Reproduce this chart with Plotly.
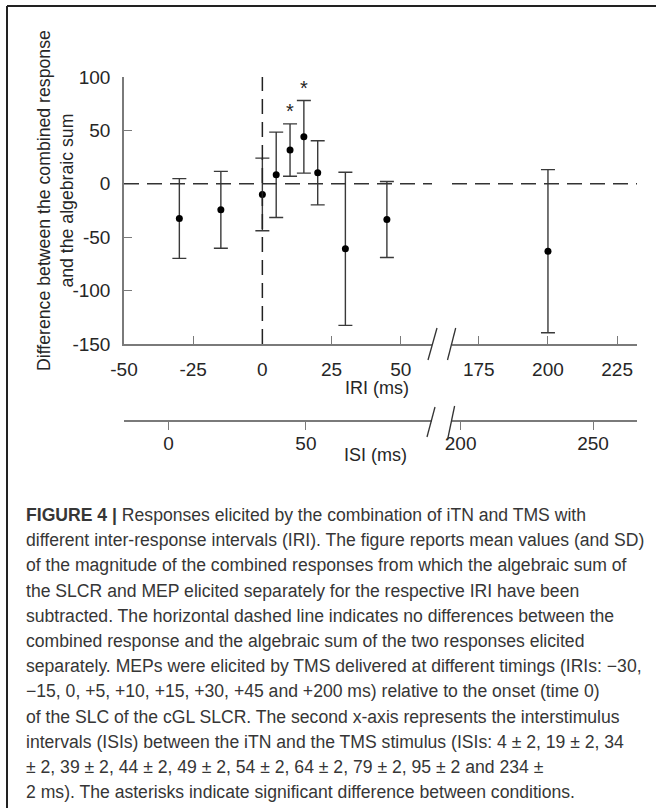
import plotly.graph_objects as go

# ---------------- data ----------------
iri = [-30, -15, 0, 5, 10, 15, 20, 30, 45, 200]
mean_diff = [-32.5, -24.4, -10.0, 8.4, 31.6, 44.0, 10.3, -60.9, -33.4, -63.1]
sd_diff = [37.3, 36.0, 34.0, 40.0, 24.5, 34.0, 30.0, 71.7, 35.6, 76.4]
significant = [False, False, False, False, True, True, False, False, False, False]

iri_left_ticks = [-50, -25, 0, 25, 50]
iri_right_ticks = [175, 200, 225]
isi_left_ticks = [0, 50]
isi_right_ticks = [200, 250]
y_ticks = [-150, -100, -50, 0, 50, 100]

BREAK = 100  # IRI values above this go to the right segment

caption_lines = [
    "<b>FIGURE 4 |</b> Responses elicited by the combination of iTN and TMS with",
    "different inter-response intervals (IRI). The figure reports mean values (and SD)",
    "of the magnitude of the combined responses from which the algebraic sum of",
    "the SLCR and MEP elicited separately for the respective IRI have been",
    "subtracted. The horizontal dashed line indicates no differences between the",
    "combined response and the algebraic sum of the two responses elicited",
    "separately. MEPs were elicited by TMS delivered at different timings (IRIs: \u221230,",
    "\u221215, 0, +5, +10, +15, +30, +45 and +200 ms) relative to the onset (time 0)",
    "of the SLC of the cGL SLCR. The second x-axis represents the interstimulus",
    "intervals (ISIs) between the iTN and the TMS stimulus (ISIs: 4 \u00b1 2, 19 \u00b1 2, 34",
    "\u00b1 2, 39 \u00b1 2, 44 \u00b1 2, 49 \u00b1 2, 54 \u00b1 2, 64 \u00b1 2, 79 \u00b1 2, 95 \u00b1 2 and 234 \u00b1",
    "2 ms). The asterisks indicate significant difference between conditions.",
]

# ---------------- layout geometry (pixels) ----------------
W, H = 656, 808
PL, PT, PR = 124, 77, 637
PB = 421
PW, PH = PR - PL, PB - PT


def px(xp):
    return (xp - PL) / PW


def py(yp):
    return (PB - yp) / PH


FONT = "Liberation Sans, Arial, sans-serif"
AXC = "#7a7a7a"
TXT = "#262626"
BAR = "#3a3a3a"

left_dom = [0, px(432)]
right_dom = [px(452), 1]
y_dom = [py(344), 1]

fig = go.Figure()

lx = [x for x in iri if x <= BREAK]
ly = [m for x, m in zip(iri, mean_diff) if x <= BREAK]
le = [s for x, s in zip(iri, sd_diff) if x <= BREAK]
rx = [x for x in iri if x > BREAK]
ry = [m for x, m in zip(iri, mean_diff) if x > BREAK]
re_ = [s for x, s in zip(iri, sd_diff) if x > BREAK]

err_style = dict(type="data", visible=True, color=BAR, thickness=1.4, width=7)
fig.add_trace(go.Scatter(x=lx, y=ly, mode="markers", xaxis="x", yaxis="y",
                         marker=dict(color="black", size=7),
                         error_y=dict(array=le, **err_style), showlegend=False))
fig.add_trace(go.Scatter(x=rx, y=ry, mode="markers", xaxis="x2", yaxis="y",
                         marker=dict(color="black", size=7),
                         error_y=dict(array=re_, **err_style), showlegend=False))
# empty traces so the ISI axes are drawn
fig.add_trace(go.Scatter(x=[], y=[], xaxis="x3", yaxis="y", showlegend=False))
fig.add_trace(go.Scatter(x=[], y=[], xaxis="x4", yaxis="y", showlegend=False))

axis_common = dict(showline=True, linecolor=AXC, linewidth=1.5, showgrid=False,
                   zeroline=False, ticklen=8, tickwidth=1.3, tickcolor=AXC,
                   tickfont=dict(family=FONT, size=19, color=TXT))


def labels(vals):
    return [str(v) for v in vals]


fig.update_layout(
    width=W, height=H,
    margin=dict(l=PL, r=W - PR, t=PT, b=H - PB, pad=0),
    paper_bgcolor="white", plot_bgcolor="white",
    xaxis=dict(domain=left_dom, range=[-50, 61.3], anchor="y", ticks="inside",
               tickvals=iri_left_ticks, ticktext=labels(iri_left_ticks),
               ticklabelstandoff=7, **axis_common),
    xaxis2=dict(domain=right_dom, range=[165.3, 232.2], anchor="y", ticks="inside",
                tickvals=iri_right_ticks, ticktext=labels(iri_right_ticks),
                ticklabelstandoff=7, **axis_common),
    xaxis3=dict(overlaying="x", anchor="free", position=0, side="bottom",
                range=[-16.2, 95.9], ticks="outside", tickvals=isi_left_ticks,
                ticktext=labels(isi_left_ticks), ticklabelstandoff=-3, **axis_common),
    xaxis4=dict(overlaying="x2", anchor="free", position=0, side="bottom",
                range=[196.75, 266.6], ticks="outside", tickvals=isi_right_ticks,
                ticktext=labels(isi_right_ticks), ticklabelstandoff=-3, **axis_common),
    yaxis=dict(domain=y_dom, range=[-150, 100], anchor="x", ticks="inside",
               tickvals=y_ticks, ticktext=labels(y_ticks),
               ticklabelstandoff=8, **axis_common),
)

shapes = []
# zero reference line on both segments
for xr in ["x domain", "x2 domain"]:
    shapes.append(dict(type="line", xref=xr, yref="y", x0=0, x1=1, y0=0, y1=0,
                       line=dict(color="#333333", width=1.4, dash="15px,8px")))
# vertical dashed line at IRI 0
shapes.append(dict(type="line", xref="x", yref="y", x0=0, x1=0, y0=-150, y1=102,
                   line=dict(color="#222222", width=1.5, dash="15px,8px")))
# axis break marks
for (xa, ya, xb, yb) in [(428, 360, 437, 328), (447.5, 360, 455.7, 328),
                         (427, 437, 435, 407), (447.5, 440, 454.6, 406)]:
    shapes.append(dict(type="line", xref="paper", yref="paper",
                       x0=px(xa), y0=py(ya), x1=px(xb), y1=py(yb),
                       line=dict(color="#333333", width=1.3)))
# figure frame (top and left)
shapes.append(dict(type="line", xref="paper", yref="paper", x0=px(7), x1=px(W),
                   y0=py(6), y1=py(6), line=dict(color="#222222", width=2)))
shapes.append(dict(type="line", xref="paper", yref="paper", x0=px(7), x1=px(7),
                   y0=py(6), y1=py(H + 2), line=dict(color="#222222", width=2)))
fig.update_layout(shapes=shapes)

ann = []
# asterisks
for x, m, s, sig in zip(iri, mean_diff, sd_diff, significant):
    if sig:
        ann.append(dict(x=x, y=m + s + 12, xref="x", yref="y", text="*",
                        showarrow=False, font=dict(family=FONT, size=20, color=TXT),
                        xanchor="center", yanchor="middle"))
# axis titles
ann.append(dict(x=px(55), y=py(201), xref="paper", yref="paper",
                text="Difference between the combined response<br>and the algebraic sum",
                textangle=-90, showarrow=False, xanchor="center", yanchor="middle",
                font=dict(family=FONT, size=17.7, color=TXT)))
ann.append(dict(x=px(377), y=py(388), xref="paper", yref="paper", text="IRI (ms)",
                showarrow=False, xanchor="center", yanchor="middle",
                font=dict(family=FONT, size=18, color=TXT)))
ann.append(dict(x=px(375), y=py(455), xref="paper", yref="paper", text="ISI (ms)",
                showarrow=False, xanchor="center", yanchor="middle",
                font=dict(family=FONT, size=18, color=TXT)))
# caption
for i, line in enumerate(caption_lines):
    ann.append(dict(x=px(24), y=py(515 + 25.2 * i), xref="paper", yref="paper",
                    text=line, showarrow=False, xanchor="left", yanchor="middle",
                    align="left", font=dict(family=FONT, size=17.6, color="#363636")))
fig.update_layout(annotations=ann)

fig.write_html("out.html", config={"displayModeBar": False},
               post_script="document.body.style.margin='0';document.body.style.padding='0';")
